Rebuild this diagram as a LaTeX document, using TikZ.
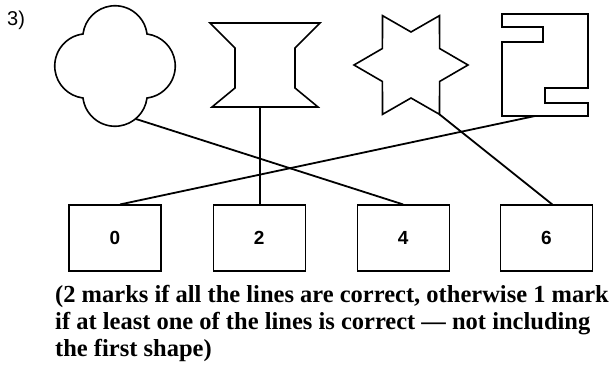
\documentclass[tikz,border=0pt]{standalone}
\usepackage{fontspec}
\setmainfont{Liberation Serif}
\setsansfont{Liberation Sans}
\usetikzlibrary{positioning}

\begin{document}
\begin{tikzpicture}[x=1pt,y=1pt,line join=miter,shape line/.style={line width=1.6pt},answer node/.style={rectangle,draw,line width=1.1pt,minimum width=92pt,minimum height=66pt,font=\sffamily\bfseries\fontsize{19}{22}\selectfont},link/.style={line width=1.8pt}]

            \useasboundingbox (0,0) rectangle (613,367);

            \node[anchor=base west, inner sep=0, font=\sffamily\fontsize{20}{24}\selectfont] (num) at (7,341) {3)};

            % cloud
            \draw[shape line] (147,333) arc[start angle=7.1,end angle=172.9,radius=32.25]
                arc[start angle=97.1,end angle=262.9,radius=32.25]
                arc[start angle=187.1,end angle=352.9,radius=32.25]
                arc[start angle=-82.9,end angle=82.9,radius=32.25] -- cycle;
            \coordinate (1) at (136,248);

            % hourglass
            \draw[shape line] (210,344) -- (320,344) -- (295,319) -- (295,279) -- (318,260) -- (212,260) -- (235,279) -- (235,319) -- cycle;
            \coordinate (2) at (260,260);

            % star
            \draw[shape line, shift={(411,302)}] (0:57) \foreach \a in {30,90,...,330}{ -- (\a:33) -- (\a+30:57)} -- cycle;
            \coordinate (3) at (439.5,252.6);

            % bracket
            \draw[shape line] (502,353) -- (588,353) -- (588,279) -- (545,279) -- (545,264) -- (588,264) -- (588,251) -- (502,251) -- (502,325) -- (543,325) -- (543,340) -- (502,340) -- cycle;
            \coordinate (4) at (535,251);

            \node[answer node] (5) at (115,129) {0};
            \node[answer node] (6) [right=51pt of 5] {2};
            \node[answer node] (7) [right=51pt of 6] {4};
            \node[answer node] (8) [right=50pt of 7] {6};

            \path[link]
                (1) edge (7.north)
                (2) edge (2 |- 6.north)
                (3) edge ([xshift=6pt]8.north)
                (4) edge ([xshift=5pt]5.north)
                ;

            \node[anchor=north west, inner sep=0, align=left, font=\bfseries\fontsize{24.5}{27}\selectfont] (note) at (55,82)
                {(2 marks if all the lines are correct, otherwise 1 mark\\if at least one of the lines is correct --- not including\\the first shape)};
        \end{tikzpicture}
\end{document}
